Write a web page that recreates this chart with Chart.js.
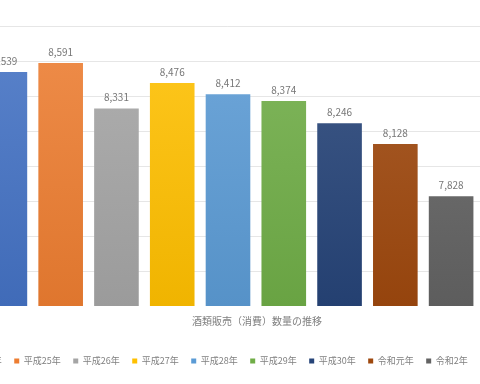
<!DOCTYPE html>
<html>
<head>
<meta charset="utf-8">
<script src="https://cdn.jsdelivr.net/npm/chart.js@4"></script>
<style>
  html, body { margin: 0; padding: 0; width: 480px; height: 384px; overflow: hidden; background: #ffffff; }
  #wrap { position: relative; width: 480px; height: 384px; overflow: hidden; }
  #c { position: absolute; left: -80px; top: 0; }
</style>
</head>
<body>
<div id="wrap"><canvas id="c" width="600" height="384"></canvas></div>
<script>
// ---- data ----
const categories = ['酒類販売（消費）数量の推移'];
const seriesNames = ['平成24年', '平成25年', '平成26年', '平成27年', '平成28年', '平成29年', '平成30年', '令和元年', '令和2年'];
const seriesValues = [8539, 8591, 8331, 8476, 8412, 8374, 8246, 8128, 7828];
const seriesColors = ['#4472C4', '#ED7D31', '#A5A5A5', '#FFC000', '#5B9BD5', '#70AD47', '#264478', '#9E480E', '#636363'];
const yTicks = [7200, 7400, 7600, 7800, 8000, 8200, 8400, 8600, 8800];

const FONT = "'Noto Sans CJK JP', 'Noto Sans', sans-serif";

function shade(hex, amt) {
  const n = parseInt(hex.slice(1), 16);
  let r = (n >> 16) & 255, g = (n >> 8) & 255, b = n & 255;
  const f = (v) => {
    const t = amt >= 0 ? v + (255 - v) * amt : v * (1 + amt);
    return Math.max(0, Math.min(255, Math.round(t)));
  };
  return 'rgb(' + f(r) + ',' + f(g) + ',' + f(b) + ')';
}

function gradientFor(color) {
  return (ctx) => {
    const chart = ctx.chart;
    const area = chart.chartArea;
    if (!area) return color;
    const g = chart.ctx.createLinearGradient(0, area.top, 0, area.bottom);
    g.addColorStop(0, shade(color, 0.12));
    g.addColorStop(1, shade(color, -0.06));
    return g;
  };
}

const datasets = seriesNames.map((name, i) => ({
  label: name,
  data: [seriesValues[i]],
  backgroundColor: gradientFor(seriesColors[i]),
  borderWidth: 0,
  barPercentage: 0.8,
  categoryPercentage: 0.91356
}));

const valueLabels = {
  id: 'valueLabels',
  afterDatasetsDraw(chart) {
    const ctx = chart.ctx;
    ctx.save();
    ctx.font = '10px ' + FONT;
    ctx.fillStyle = '#777777';
    ctx.textAlign = 'center';
    ctx.textBaseline = 'middle';
    chart.data.datasets.forEach((ds, di) => {
      const meta = chart.getDatasetMeta(di);
      meta.data.forEach((el, idx) => {
        const v = ds.data[idx];
        ctx.fillText(v.toLocaleString('en-US'), el.x, el.y - 11);
      });
    });
    ctx.restore();
  }
};

new Chart(document.getElementById('c'), {
  type: 'bar',
  data: { labels: categories, datasets: datasets },
  options: {
    responsive: false,
    animation: false,
    layout: { padding: { left: 22.75, right: 17.25, top: 26.5, bottom: 8.5 } },
    scales: {
      x: {
        grid: { display: false, drawTicks: false },
        border: { display: false },
        ticks: {
          padding: 9,
          labelOffset: 29,
          color: '#7f7f7f',
          font: { family: FONT, size: 10 }
        },
        afterFit(scale) { scale.height = 38; }
      },
      y: {
        min: yTicks[0],
        max: yTicks[yTicks.length - 1],
        afterBuildTicks(scale) { scale.ticks = yTicks.map(v => ({ value: v })); },
        grid: {
          drawTicks: false,
          color: (c) => (c.tick && c.tick.value === yTicks[0]) ? 'rgba(0,0,0,0)' : '#e6e6e6',
          lineWidth: 1
        },
        border: { display: false },
        ticks: { display: false },
        afterFit(scale) { scale.width = 10.5; }
      }
    },
    plugins: {
      tooltip: { enabled: false },
      title: { display: false },
      legend: {
        position: 'bottom',
        align: 'start',
        labels: {
          boxWidth: 5,
          boxHeight: 5,
          padding: 12.5,
          color: '#7f7f7f',
          font: { family: FONT, size: 9 },
          generateLabels(chart) {
            return chart.data.datasets.map((ds, i) => ({
              text: ds.label,
              fillStyle: seriesColors[i],
              strokeStyle: seriesColors[i],
              lineWidth: 0,
              hidden: !chart.isDatasetVisible(i),
              datasetIndex: i,
              fontColor: '#7f7f7f'
            }));
          }
        }
      }
    }
  },
  plugins: [valueLabels]
});
</script>
</body>
</html>
